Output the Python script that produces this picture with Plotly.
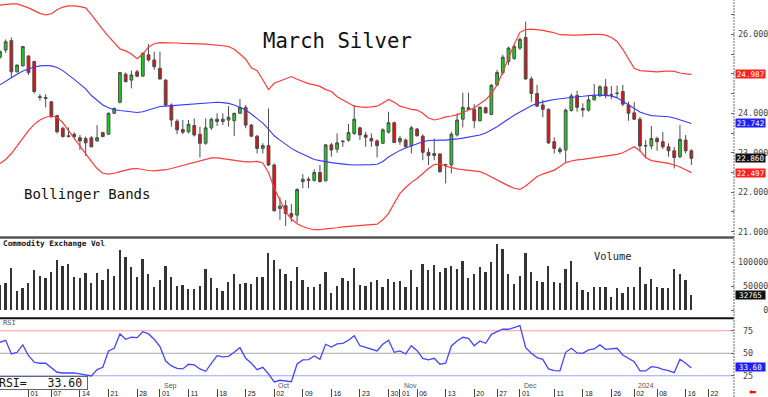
import plotly.graph_objects as go
import pandas as pd

# ---------------- data ----------------
holidays = ["2023-09-04", "2023-11-23", "2023-12-25", "2024-01-01", "2024-01-15"]
calendar = [d.strftime("%Y-%m-%d") for d in pd.bdate_range("2023-07-25", "2024-01-31")
            if d.strftime("%Y-%m-%d") not in holidays]

opens = [25.42, 25.60, 25.84, 25.05, 25.20, 25.45, 25.31, 24.42, 24.37, 24.29,
         23.94, 23.62, 23.43, 23.47, 23.38, 23.36, 23.38, 23.30, 23.51, 23.47,
         24.00, 24.28, 24.99, 24.84, 25.05, 24.94, 25.48, 25.35, 25.14, 24.84,
         24.21, 23.80, 23.59, 23.53, 23.69, 23.47, 23.24, 23.63, 23.85, 23.79,
         23.83, 23.81, 24.00, 24.15, 23.70, 23.42, 23.11, 23.18, 22.69, 21.59,
         21.66, 21.46, 21.42, 22.27, 22.33, 22.30, 22.50, 22.29, 23.20, 23.09,
         23.28, 23.32, 23.49, 23.63, 23.45, 23.36, 23.30, 23.24, 23.52, 23.76,
         23.28, 23.32, 23.18, 23.60, 23.42, 23.01, 22.93, 22.97, 22.69, 22.69,
         23.45, 23.85, 24.14, 24.10, 23.81, 24.14, 23.97, 24.72, 25.03, 25.31,
         25.39, 25.65, 25.92, 24.87, 24.50, 24.21, 24.10, 23.28, 23.09, 23.07,
         24.07, 24.45, 24.12, 24.08, 24.34, 24.44, 24.67, 24.46, 24.50, 24.55,
         24.21, 24.01, 23.85, 23.17, 23.17, 23.36, 23.28, 23.15, 23.05, 22.90,
         23.32, 23.05]
highs = [25.60, 25.87, 25.92, 25.24, 25.70, 25.47, 25.33, 24.49, 24.48, 24.31,
         23.96, 23.66, 23.64, 23.52, 23.45, 23.41, 23.42, 23.70, 23.53, 24.02,
         24.15, 25.05, 25.03, 25.08, 25.10, 25.54, 25.75, 25.56, 25.56, 24.86,
         24.25, 23.85, 23.83, 23.83, 23.87, 23.66, 23.87, 23.89, 24.00, 24.00,
         24.18, 24.01, 24.36, 24.21, 23.73, 23.45, 23.24, 24.12, 22.73, 21.87,
         21.80, 21.70, 22.10, 22.46, 22.39, 22.58, 22.69, 23.22, 23.25, 23.49,
         23.32, 23.73, 24.21, 23.66, 23.53, 23.49, 23.34, 23.62, 24.04, 23.79,
         23.43, 23.36, 23.68, 23.63, 23.47, 23.11, 23.36, 22.98, 22.72, 23.53,
         24.00, 24.52, 24.52, 24.23, 24.18, 24.17, 24.74, 25.10, 25.48, 25.69,
         25.73, 25.92, 26.32, 24.93, 24.72, 24.34, 24.12, 23.39, 23.15, 24.12,
         24.50, 24.57, 24.25, 24.46, 24.74, 24.71, 24.87, 24.69, 24.70, 24.72,
         24.29, 24.29, 23.91, 23.32, 23.68, 23.41, 23.53, 23.24, 23.15, 23.70,
         23.45, 23.09]
lows = [25.38, 25.53, 24.91, 25.03, 25.19, 24.97, 24.50, 24.32, 24.15, 23.89,
        23.49, 23.38, 23.39, 23.37, 23.07, 22.92, 23.14, 23.28, 23.39, 23.46,
        23.98, 24.25, 24.78, 24.63, 24.91, 24.93, 25.31, 25.10, 24.84, 24.18,
        23.66, 23.47, 23.47, 23.49, 23.41, 22.88, 23.20, 23.58, 23.68, 23.70,
        23.66, 23.42, 23.98, 23.62, 23.39, 22.98, 22.98, 22.66, 21.51, 21.30,
        21.14, 21.25, 21.23, 22.10, 22.10, 22.27, 22.24, 22.27, 22.90, 23.00,
        23.15, 23.28, 23.45, 23.32, 23.15, 23.15, 22.88, 23.22, 23.49, 23.25,
        23.20, 23.14, 22.98, 23.41, 22.81, 22.69, 22.81, 22.49, 22.22, 22.48,
        23.41, 23.64, 24.08, 23.62, 23.79, 24.00, 23.95, 24.69, 24.97, 25.22,
        25.35, 25.60, 24.84, 24.29, 24.17, 23.90, 23.22, 22.98, 22.97, 22.77,
        24.04, 24.04, 23.91, 24.04, 24.32, 24.42, 24.38, 24.36, 24.40, 24.18,
        23.81, 23.83, 23.03, 22.86, 23.09, 23.05, 23.09, 22.90, 22.60, 22.86,
        22.98, 22.69]
closes = [25.56, 25.81, 25.05, 25.22, 25.69, 25.03, 24.55, 24.40, 24.40, 23.91,
          23.53, 23.41, 23.41, 23.41, 23.30, 23.25, 23.15, 23.38, 23.41, 24.00,
          24.12, 25.03, 24.80, 24.97, 24.94, 25.52, 25.35, 25.18, 24.87, 24.21,
          23.83, 23.58, 23.52, 23.72, 23.45, 23.24, 23.63, 23.85, 23.79, 23.85,
          23.90, 24.00, 24.15, 23.70, 23.42, 23.11, 23.18, 22.69, 21.53, 21.65,
          21.46, 21.38, 22.07, 22.33, 22.30, 22.50, 22.27, 23.20, 23.07, 23.25,
          23.29, 23.51, 23.85, 23.45, 23.39, 23.30, 23.18, 23.58, 23.76, 23.26,
          23.36, 23.15, 23.63, 23.43, 23.01, 22.93, 22.98, 22.52, 22.70, 23.47,
          23.83, 24.15, 24.10, 23.81, 24.15, 24.01, 24.71, 25.03, 25.42, 25.65,
          25.69, 25.87, 24.87, 24.50, 24.18, 24.10, 23.25, 23.11, 23.03, 24.08,
          24.44, 24.15, 24.08, 24.34, 24.44, 24.67, 24.45, 24.47, 24.51, 24.23,
          24.00, 23.85, 23.17, 23.18, 23.36, 23.28, 23.15, 23.05, 22.88, 23.34,
          23.05, 22.86]

bb_upper = [26.74, 26.76, 26.77, 26.77, 26.72, 26.67, 26.60, 26.53, 26.49, 26.52,
            26.62, 26.69, 26.72, 26.72, 26.70, 26.67, 26.50, 26.30, 26.12, 25.95,
            25.78, 25.63, 25.58, 25.50, 25.38, 25.50, 25.68, 25.76, 25.79, 25.79,
            25.78, 25.78, 25.77, 25.77, 25.77, 25.76, 25.75, 25.74, 25.72, 25.71,
            25.69, 25.62, 25.50, 25.37, 25.15, 25.08, 24.85, 24.60, 24.76, 24.82,
            24.88, 24.93, 24.86, 24.80, 24.75, 24.72, 24.68, 24.60, 24.55, 24.42,
            24.34, 24.25, 24.18, 24.16, 24.15, 24.16, 24.18, 24.26, 24.35, 24.28,
            24.18, 24.14, 24.10, 24.08, 24.00, 23.88, 23.83, 23.86, 23.91, 23.93,
            23.96, 24.02, 24.08, 24.14, 24.24, 24.34, 24.50, 24.72, 25.05, 25.40,
            25.75, 26.05, 26.12, 26.13, 26.12, 26.10, 26.07, 26.04, 25.99, 25.98,
            25.98, 25.98, 25.99, 26.00, 26.00, 26.00, 25.98, 25.92, 25.82, 25.62,
            25.38, 25.14, 25.08, 25.07, 25.05, 25.05, 25.06, 25.07, 25.06, 25.02,
            25.00, 24.987]
bb_mid = [24.72, 24.80, 24.90, 24.99, 25.07, 25.12, 25.17, 25.20, 25.21, 25.20,
          25.16, 25.08, 24.98, 24.86, 24.74, 24.62, 24.45, 24.33, 24.21, 24.14,
          24.09, 24.07, 24.05, 24.03, 24.02, 24.04, 24.09, 24.14, 24.17, 24.18,
          24.19, 24.20, 24.21, 24.22, 24.23, 24.24, 24.26, 24.27, 24.28, 24.27,
          24.25, 24.21, 24.15, 24.08, 23.98, 23.87, 23.75, 23.60, 23.43, 23.32,
          23.21, 23.11, 23.03, 22.96, 22.89, 22.83, 22.80, 22.77, 22.75, 22.73,
          22.71, 22.70, 22.69, 22.69, 22.69, 22.70, 22.71, 22.78, 22.89, 22.98,
          23.06, 23.12, 23.18, 23.24, 23.28, 23.31, 23.32, 23.32, 23.32, 23.33,
          23.35, 23.37, 23.40, 23.42, 23.45, 23.50, 23.57, 23.66, 23.76, 23.86,
          23.95, 24.03, 24.12, 24.19, 24.25, 24.29, 24.32, 24.35, 24.37, 24.39,
          24.41, 24.42, 24.43, 24.45, 24.46, 24.46, 24.45, 24.44, 24.39, 24.30,
          24.19, 24.10, 24.03, 23.98, 23.94, 23.93, 23.92, 23.91, 23.88, 23.84,
          23.79, 23.742]
bb_lower = [22.73, 22.83, 22.98, 23.18, 23.38, 23.56, 23.72, 23.83, 23.90, 23.93,
            23.90, 23.76, 23.56, 23.36, 23.16, 22.97, 22.78, 22.60, 22.48, 22.46,
            22.48, 22.52, 22.56, 22.59, 22.60, 22.57, 22.55, 22.54, 22.55, 22.57,
            22.60, 22.64, 22.68, 22.72, 22.76, 22.80, 22.84, 22.87, 22.87, 22.85,
            22.83, 22.80, 22.78, 22.77, 22.77, 22.78, 22.74, 22.50, 22.10, 21.78,
            21.50, 21.32, 21.20, 21.13, 21.08, 21.05, 21.05, 21.07, 21.08, 21.10,
            21.12, 21.13, 21.15, 21.16, 21.17, 21.18, 21.19, 21.30, 21.46, 21.72,
            21.97, 22.12, 22.25, 22.35, 22.48, 22.60, 22.70, 22.72, 22.66, 22.62,
            22.59, 22.57, 22.55, 22.54, 22.52, 22.46, 22.38, 22.30, 22.22, 22.16,
            22.10, 22.07, 22.16, 22.28, 22.40, 22.46, 22.51, 22.56, 22.65, 22.75,
            22.79, 22.82, 22.83, 22.85, 22.88, 22.90, 22.92, 22.94, 22.96, 23.00,
            23.07, 23.15, 23.05, 22.88, 22.80, 22.78, 22.76, 22.73, 22.69, 22.64,
            22.57, 22.497]

volume = [52000, 57700, 87900, 40400, 47300, 56500, 84300, 71800, 68200, 79500,
          105200, 93300, 96200, 70300, 66900, 77400, 57700, 78700, 63400, 86400,
          72400, 126800, 112100, 90000, 70300, 107300, 75900, 48100, 63400, 93300,
          70300, 50800, 52900, 43900, 43900, 50800, 86400, 66900, 47300, 41000,
          59800, 75900, 55000, 57700, 55000, 69000, 69000, 120500, 105200, 86400,
          75900, 61900, 91200, 63400, 48100, 48100, 55000, 79500, 36800, 50800,
          68200, 61300, 87900, 52900, 50800, 58400, 63400, 49400, 65500, 58500,
          61300, 49400, 84300, 49400, 96200, 84300, 94800, 79500, 87900, 92700,
          86400, 103100, 68200, 75900, 91200, 79500, 101700, 138100, 127600, 75900,
          54400, 72400, 119900, 80100, 61900, 59200, 92700, 59200, 57100, 86400,
          103100, 58500, 43200, 38300, 49400, 48000, 48000, 28500, 46600, 35600,
          48000, 49400, 91200, 55000, 65500, 49400, 46000, 46000, 86400, 75300,
          64000, 32765]

rsi = [62.2, 64.4, 49.2, 51.1, 59.3, 47.3, 40.0, 38.9, 38.9, 34.0,
       28.9, 28.1, 28.1, 28.1, 27.0, 25.9, 24.8, 31.8, 34.4, 52.6,
       55.6, 71.5, 65.6, 67.8, 67.4, 74.0, 71.5, 65.6, 57.4, 41.4,
       35.9, 33.3, 32.6, 37.8, 37.0, 32.6, 30.0, 38.9, 47.3, 45.9,
       46.6, 51.1, 56.3, 44.4, 38.9, 31.8, 34.4, 27.0, 18.1, 20.0,
       19.6, 18.4, 38.1, 42.6, 43.0, 47.0, 43.3, 60.0, 57.0, 60.4,
       61.1, 64.4, 69.6, 58.4, 56.6, 54.8, 52.6, 60.0, 64.4, 51.1,
       52.6, 49.2, 58.4, 52.9, 44.4, 42.6, 44.4, 37.8, 38.9, 58.1,
       63.7, 67.8, 66.7, 58.4, 63.7, 61.1, 71.1, 74.0, 76.7, 76.7,
       78.9, 80.7, 56.3, 50.0, 45.2, 43.3, 32.6, 30.8, 30.4, 51.1,
       55.6, 50.4, 50.0, 53.7, 54.8, 59.3, 54.4, 54.8, 55.6, 48.1,
       44.4, 40.7, 30.4, 30.4, 35.1, 34.4, 32.2, 30.8, 28.4, 43.3,
       38.9, 33.6]
rsi_levels = [75, 50, 25]

tick_dates = ["2023-08-01", "2023-08-07", "2023-08-14", "2023-08-21", "2023-08-28",
              "2023-09-01", "2023-09-11", "2023-09-18", "2023-09-25", "2023-10-02",
              "2023-10-09", "2023-10-16", "2023-10-23", "2023-10-30", "2023-11-01",
              "2023-11-06", "2023-11-13", "2023-11-20", "2023-11-27", "2023-12-01",
              "2023-12-11", "2023-12-18", "2023-12-26", "2024-01-02", "2024-01-08",
              "2024-01-16", "2024-01-22"]
tick_labels = [d[-2:] for d in tick_dates]
month_dates = ["2023-09-01", "2023-10-02", "2023-11-01", "2023-12-01", "2024-01-02"]
month_labels = ["Sep", "Oct", "Nov", "Dec", "2024"]

price_ticks = [21, 21.5, 22, 22.5, 23, 23.5, 24, 24.5, 25, 25.5, 26, 26.5]
price_labeled = [21, 22, 23, 24, 26]
vol_ticks = [0, 50000, 100000]
# --------------------------------------

n = len(closes)
dates = calendar[:n]
xs = list(range(n))
tickvals = [calendar.index(d) for d in tick_dates]

W, H = 768, 397
ML, MR, MT, MB = 0, 29, 0, 9
PW, PH = W - ML - MR, H - MT - MB


def py(pix):  # pixel row -> paper y
    return (PH - pix) / PH


X_RANGE = [0.01, 128.46]
mono = "DejaVu Sans Mono"
NB = "\u00a0"

fig = go.Figure()
fig.add_trace(go.Scatter(x=xs, y=bb_upper, mode="lines", line=dict(color="#ff3a3a", width=1.2),
                         hoverinfo="skip", xaxis="x", yaxis="y"))
fig.add_trace(go.Scatter(x=xs, y=bb_lower, mode="lines", line=dict(color="#ff3a3a", width=1.2),
                         hoverinfo="skip", xaxis="x", yaxis="y"))
fig.add_trace(go.Scatter(x=xs, y=bb_mid, mode="lines", line=dict(color="#3a3aff", width=1.1),
                         hoverinfo="skip", xaxis="x", yaxis="y"))
fig.add_trace(go.Candlestick(
    x=xs, open=opens, high=highs, low=lows, close=closes, text=dates,
    increasing=dict(line=dict(color="#4d4d4d", width=1), fillcolor="#18d018"),
    decreasing=dict(line=dict(color="#4d4d4d", width=1), fillcolor="#e01212"),
    whiskerwidth=0, xaxis="x", yaxis="y"))
fig.add_trace(go.Bar(x=xs, y=volume, width=0.32, marker=dict(color="#333333", line_width=0),
                     xaxis="x2", yaxis="y2"))
fig.add_trace(go.Scatter(x=xs, y=rsi, mode="lines", line=dict(color="#4545ff", width=1.3),
                         xaxis="x3", yaxis="y3"))

dom_main = [py(236), 1]
dom_vol = [py(317), py(239)]
dom_rsi = [0, py(319)]

axis_font = dict(family=mono, size=8.4, color="#444")
common_x = dict(range=X_RANGE, showgrid=False, zeroline=False, showline=False, fixedrange=True)

fig.update_layout(
    width=W, height=H, autosize=False,
    margin=dict(l=ML, r=MR, t=MT, b=MB, pad=0),
    paper_bgcolor="white", plot_bgcolor="white", showlegend=False,
    bargap=0,
    xaxis=dict(common_x, domain=[0, 1], anchor="y", showticklabels=False, ticks="",
               rangeslider=dict(visible=False)),
    xaxis2=dict(common_x, domain=[0, 1], anchor="y2", showticklabels=False, ticks="", matches="x"),
    xaxis3=dict(common_x, domain=[0, 1], anchor="y3", matches="x",
                tickmode="array", tickvals=tickvals, ticktext=tick_labels,
                ticks="outside", ticklen=9, tickwidth=1, tickcolor="#444",
                tickfont=dict(family="Liberation Sans", size=7, color="#222"),
                ticklabelstandoff=-10, ticklabelshift=6),
    yaxis=dict(domain=dom_main, anchor="x", side="right", range=[20.891, 26.869],
               tickmode="array", tickvals=price_ticks,
               ticktext=[f"{v:.3f}" if v in price_labeled else "" for v in price_ticks],
               ticks="inside", ticklen=3, tickcolor="#666", tickfont=axis_font,
               showgrid=False, zeroline=False, showline=False, fixedrange=True,
               ticklabelstandoff=3),
    yaxis2=dict(domain=dom_vol, anchor="x2", side="right", range=[-14016, 149160],
                tickmode="array", tickvals=vol_ticks,
                ticktext=[(NB * (6 - len(str(v)))) + str(v) for v in vol_ticks],
                ticks="inside", ticklen=3, tickcolor="#666", tickfont=axis_font,
                showgrid=False, zeroline=False, showline=False, fixedrange=True,
                ticklabelstandoff=3),
    yaxis3=dict(domain=dom_rsi, anchor="x3", side="right", range=[11.4, 88.1],
                tickmode="array", tickvals=rsi_levels,
                ticktext=[NB + str(v) for v in rsi_levels],
                ticks="inside", ticklen=3, tickcolor="#666", tickfont=axis_font,
                showgrid=False, zeroline=False, showline=False, fixedrange=True,
                ticklabelstandoff=3),
)

shapes = []
level_colors = ["#ff9a9a", "#a8a8a8", "#a0a0ff"]
for lv, col in zip(rsi_levels, level_colors):
    shapes.append(dict(type="line", xref="paper", yref="y3", x0=0, x1=1, y0=lv, y1=lv,
                       line=dict(color=col, width=1), layer="below"))
shapes.append(dict(type="line", xref="paper", yref="paper", x0=0, x1=1,
                   y0=py(237.6), y1=py(237.6), line=dict(color="#555", width=2.5)))
shapes.append(dict(type="line", xref="paper", yref="paper", x0=0, x1=1,
                   y0=py(318.3), y1=py(318.3), line=dict(color="#111", width=2)))
shapes.append(dict(type="line", xref="paper", yref="paper", x0=1, x1=1,
                   y0=py(H - MT), y1=1, line=dict(color="#6a6a6a", width=1, dash="2px,1px")))
fig.update_layout(shapes=shapes)

ann = []
ann.append(dict(text="March Silver", xref="paper", yref="paper", x=263 / PW, y=py(41),
                xanchor="left", yanchor="middle", showarrow=False,
                font=dict(family=mono, size=20.6, color="#111")))
ann.append(dict(text="Bollinger Bands", xref="paper", yref="paper", x=22 / PW, y=py(193.5),
                xanchor="left", yanchor="middle", showarrow=False,
                font=dict(family=mono, size=14, color="#111")))
ann.append(dict(text="Volume", xref="paper", yref="paper", x=596 / PW, y=py(255.5),
                xanchor="left", yanchor="middle", showarrow=False,
                font=dict(family=mono, size=10.4, color="#222")))
ann.append(dict(text="<b>Commodity Exchange Vol</b>", xref="paper", yref="paper", x=1 / PW,
                y=py(243.5), xanchor="left", yanchor="middle", showarrow=False,
                font=dict(family=mono, size=7.7, color="#111")))
ann.append(dict(text="RSI", xref="paper", yref="paper", x=1 / PW, y=py(322.5),
                xanchor="left", yanchor="middle", showarrow=False,
                font=dict(family=mono, size=7, color="#555")))
for d, lab in zip(month_dates, month_labels):
    ann.append(dict(text=lab, xref="x3", yref="paper", x=calendar.index(d), y=py(385.5),
                    xanchor="left", yanchor="middle", xshift=2, showarrow=False,
                    font=dict(family="Liberation Sans", size=7, color="#555")))
ann.append(dict(text="RSI=" + NB * 3 + f"{rsi[-1]:.2f}", xref="paper", yref="paper",
                x=-0.003, y=py(376), xanchor="left", yanchor="top", showarrow=False,
                width=88, height=12, align="left", bgcolor="white",
                bordercolor="#666", borderwidth=1, borderpad=0,
                font=dict(family=mono, size=11.5, color="#111")))

boxes = [("y", bb_upper[-1], f"{bb_upper[-1]:.3f}", "#ff2020", 0),
         ("y", bb_mid[-1], f"{bb_mid[-1]:.3f}", "#2020ff", 0),
         ("y", closes[-1], f"{closes[-1]:.3f}", "#111111", 0),
         ("y", bb_lower[-1], f"{bb_lower[-1]:.3f}", "#ff2020", 0),
         ("y2", volume[-1], f"{volume[-1]}", "#111111", 0),
         ("y3", rsi[-1], f"{rsi[-1]:.2f}", "#2020ff", 1.5)]
for yref, val, txt, col, ys in boxes:
    ann.append(dict(text=txt, xref="paper", yref=yref, x=1, y=val, xanchor="left",
                    yanchor="middle", xshift=0.5, yshift=ys, showarrow=False, width=29, height=8,
                    align="center", bgcolor=col, borderpad=0,
                    font=dict(family=mono, size=7.6, color="white")))
ann.append(dict(text="\u2b05", xref="paper", yref="paper", x=(W - 10) / PW, y=py(391.5),
                xanchor="center", yanchor="middle", showarrow=False,
                font=dict(family="DejaVu Sans", size=9, color="#ee1111")))
fig.update_layout(annotations=ann)

fig.write_html("out.html", config={"displayModeBar": False},
               post_script="document.body.style.margin='0';document.body.style.overflow='hidden';")
